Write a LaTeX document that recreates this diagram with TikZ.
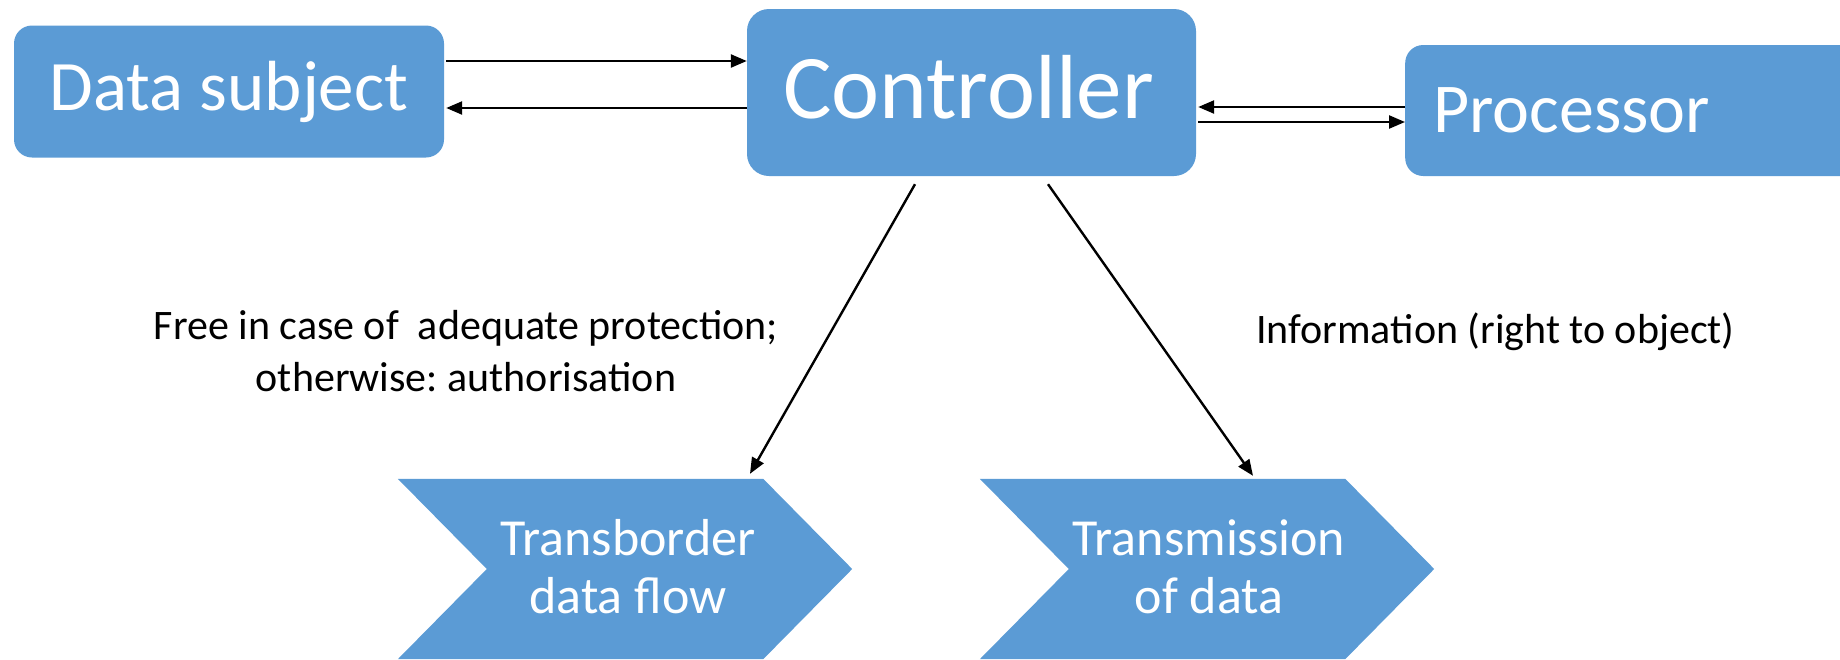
\documentclass[tikz,border=0pt]{standalone}
\usepackage{fontspec}
\setmainfont{Carlito}
\frenchspacing
\usetikzlibrary{arrows.meta,calc}
\definecolor{boxblue}{HTML}{5B9BD5}
\tikzset{
  block/.style={fill=boxblue, text=white, rounded corners=18, inner sep=0},
  conn/.style={line width=2.4, -{Triangle[length=16,width=13]}},
  note/.style={align=center, inner sep=0, font=\fontsize{42}{52}\selectfont},
  chevtext/.style={text=white, align=center, inner sep=0, font=\fontsize{52}{58}\selectfont},
}
\begin{document}
\begin{tikzpicture}[x=1pt,y=-1pt]
\useasboundingbox (0,0) rectangle (1840,659);
\clip (0,0) rectangle (1840,659);

% upper row: the three parties
\node[block, minimum width=430, minimum height=132, font=\fontsize{71}{80}\selectfont]
  (ds) at (229,91.5) {Data subject\hspace{10pt}};
\node[block, rounded corners=22, minimum width=449, minimum height=167]
  (ctrl) at (971.5,92.5) {};
\node[text=white, inner sep=0, font=\fontsize{91}{96}\selectfont] at ($(ctrl)+(-3,-5)$) {Controller};
\node[block, minimum height=131, text width=440, inner xsep=28, align=left, anchor=west,
  font=\fontsize{70}{78}\selectfont]
  (proc) at (1405,110.5) {Processor};

% lower row: two chevrons
\node[minimum width=454, minimum height=180, inner sep=0] (tbf) at (625,569) {};
\node[minimum width=454, minimum height=180, inner sep=0] (tod) at (1207,569) {};
\foreach \c in {tbf,tod}{
  \fill[boxblue] (\c.north west) -- ($(\c.north east)+(-89,0)$) -- (\c.east)
    -- ($(\c.south east)+(-89,0)$) -- (\c.south west) -- ($(\c.west)+(89,0)$) -- cycle;
}
\node[chevtext] at ($(tbf)+(3,-2)$) {Transborder\\data flow};
\node[chevtext] at ($(tod)+(2,-2)$) {Transmission\\of data};

% exchanges between the parties
\draw[conn] ([yshift=30.5,xshift=2]ds.east) -- ([yshift=30.5]ds.east -| ctrl.west);
\draw[conn] ([yshift=-15.5]ctrl.west) -- ([yshift=-15.5,xshift=2]ctrl.west -| ds.east);
\draw[conn] ([yshift=3.5]proc.west) -- ([yshift=3.5,xshift=2]proc.west -| ctrl.east);
\draw[conn] ([yshift=-11.5,xshift=2]proc.west -| ctrl.east) -- ([yshift=-11.5]proc.west);

% flows from the controller
\draw[conn] ($(ctrl.south)+(-56.5,8)$) -- ($(tbf.north)+(125,-5)$);
\draw[conn] ($(ctrl.south)+(76.5,8)$) -- ($(tod.north)+(46,-3)$);

% notes beside the flows
\node[note] (n1) at (466,351) {Free in case of\ \ adequate protection;\\otherwise: authorisation};
\node[note, anchor=base west] (n2) at (1256,343) {Information (right to object)};
\end{tikzpicture}
\end{document}
